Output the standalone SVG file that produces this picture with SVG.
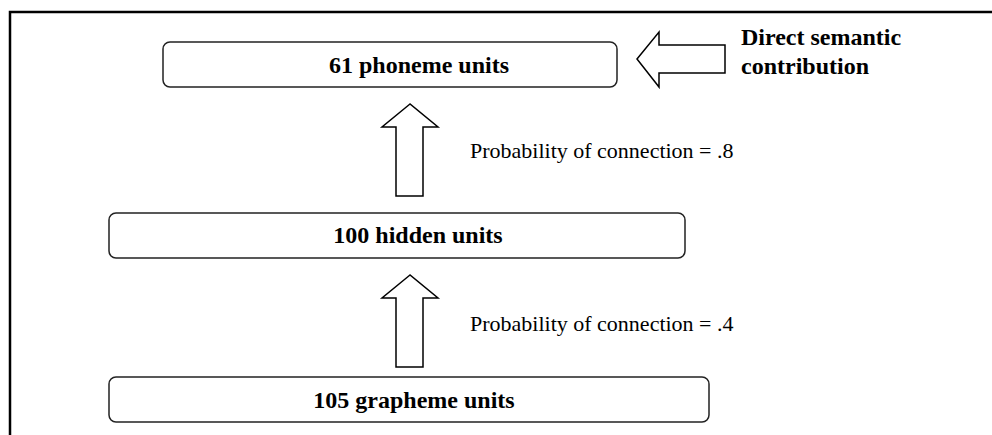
<svg xmlns="http://www.w3.org/2000/svg" width="992" height="435" viewBox="0 0 992 435">
<style>
.box{fill:#fff;stroke:#222;stroke-width:1.5}
.arr{fill:#fff;stroke:#000;stroke-width:1.5;stroke-linejoin:miter}
.lbl{font-family:"Liberation Serif","Times New Roman",serif;font-size:24px;font-weight:bold;fill:#000;text-anchor:middle}
.side{font-family:"Liberation Serif","Times New Roman",serif;font-size:24px;font-weight:bold;fill:#000}
.prob{font-family:"Liberation Serif","Times New Roman",serif;font-size:22px;fill:#000}
</style>
<rect width="992" height="435" fill="#fff"/>
<path d="M10,435 V12 H992" fill="none" stroke="#000" stroke-width="2.5"/>
<g id="phoneme">
<rect class="box" x="163" y="42" width="454" height="45" rx="7"/>
<text class="lbl" x="419" y="73">61 phoneme units</text>
</g>
<g id="hidden">
<rect class="box" x="109" y="213" width="576" height="45" rx="7"/>
<text class="lbl" x="418" y="243">100 hidden units</text>
</g>
<g id="grapheme">
<rect class="box" x="109" y="377" width="600" height="45" rx="7"/>
<text class="lbl" x="414" y="408">105 grapheme units</text>
</g>
<g id="semantic">
<text class="side" x="741" y="45">Direct semantic</text>
<text class="side" x="741" y="74">contribution</text>
</g>
<g id="connectors">
<polygon class="arr" points="637,59 659,32 659,45 725,45 725,73 659,73 659,87"/>
<polygon class="arr" points="410,104 382,127 396,127 396,196 423,196 423,127 438,127"/>
<polygon class="arr" points="410,275 382,298 396,298 396,367 423,367 423,298 438,298"/>
<text class="prob" x="470" y="158">Probability of connection = .8</text>
<text class="prob" x="470" y="331">Probability of connection = .4</text>
</g>
</svg>
